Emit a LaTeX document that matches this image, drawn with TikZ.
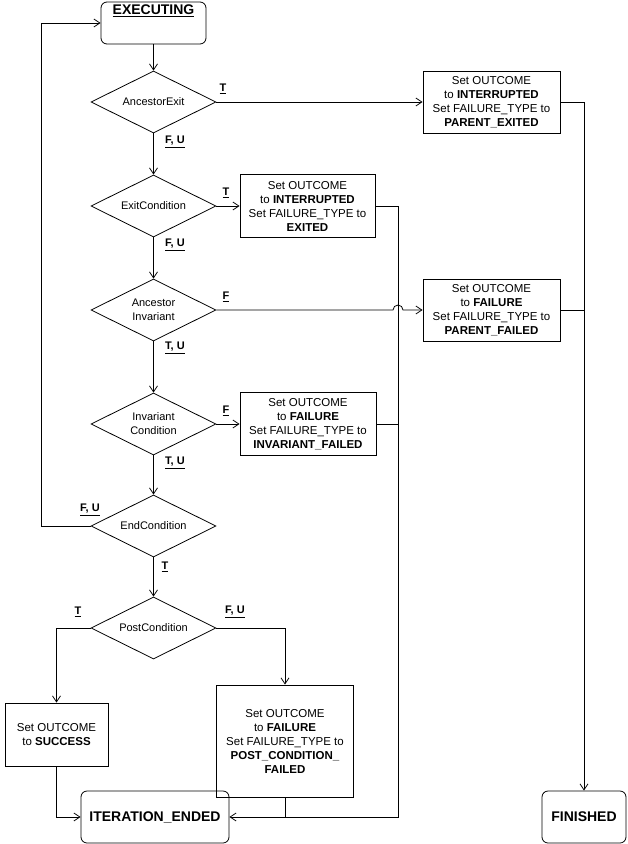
\documentclass[tikz,border=0pt]{standalone}
\usepackage{fontspec}
\setmainfont{Liberation Sans}
\usepackage{tikz}
\usetikzlibrary{shapes.geometric,arrows.meta}

\begin{document}
\begin{tikzpicture}[x=1pt,y=-1pt,>={Straight Barb[length=6pt,width=8pt]},
			line width=0.8pt,
			test/.style={diamond,draw,aspect=2,minimum width=125pt,minimum height=62pt,inner sep=0pt,align=center,font=\fontsize{11}{14}\selectfont},
			action/.style={rectangle,draw,minimum width=137pt,minimum height=62pt,inner sep=2pt,align=center,font=\fontsize{11.5}{14}\selectfont},
			state/.style={rectangle,draw,rounded corners=6pt,font=\fontsize{14}{16}\selectfont\bfseries},
			tag/.style={inner sep=0pt,font=\fontsize{11}{13}\selectfont\bfseries},
			]
			\useasboundingbox (0,0) rectangle (627,844);
			
			% 状态
			\node[state,minimum width=105pt,minimum height=42pt,
			label={[anchor=north,inner sep=3pt,font=\fontsize{14}{16}\selectfont\bfseries]north:\underline{EXECUTING}}] (exec) at (153.5,23) {};
			\node[state,minimum width=148pt,minimum height=52pt] (iter) at (155,817) {ITERATION\_ENDED};
			\node[state,minimum width=84pt,minimum height=52pt] (fin) at (584,817) {FINISHED};
			
			% 判断
			\node[test] (ae) at (153.5,102) {AncestorExit};
			\node[test] (ec) at (153.5,206) {ExitCondition};
			\node[test] (ai) at (153.5,310) {Ancestor\\Invariant};
			\node[test] (ic) at (153.5,424) {Invariant\\Condition};
			\node[test] (endc) at (153.5,526) {EndCondition};
			\node[test] (post) at (153.5,628) {PostCondition};
			
			% 动作
			\node[action] (pe) at (491.5,102) {Set OUTCOME\\to \textbf{INTERRUPTED}\\Set FAILURE\_TYPE to\\\textbf{PARENT\_EXITED}};
			\node[action,minimum width=135pt,minimum height=63pt] (ex) at (307.5,206) {Set OUTCOME\\to \textbf{INTERRUPTED}\\Set FAILURE\_TYPE to\\\textbf{EXITED}};
			\node[action] (pf) at (491.5,310) {Set OUTCOME\\to \textbf{FAILURE}\\Set FAILURE\_TYPE to\\\textbf{PARENT\_FAILED}};
			\node[action,minimum width=136pt,minimum height=63pt] (inv) at (308,424) {Set OUTCOME\\to \textbf{FAILURE}\\Set FAILURE\_TYPE to\\\textbf{INVARIANT\_FAILED}};
			\node[action,minimum width=103pt,minimum height=63pt] (succ) at (56.5,734.5) {Set OUTCOME\\to \textbf{SUCCESS}};
			\node[action,minimum height=112pt] (pcf) at (285,741) {Set OUTCOME\\to \textbf{FAILURE}\\Set FAILURE\_TYPE to\\\textbf{POST\_CONDITION\_}\\\textbf{FAILED}};
			
			% 分支标记
			\node[tag] (t1) at (223,89) {\underline{T}};
			\node[tag] (fu1) at (175,142) {\underline{F, U}};
			\node[tag] (t2) at (226,193) {\underline{T}};
			\node[tag] (fu2) at (175,245) {\underline{F, U}};
			\node[tag] (f3) at (226,297) {\underline{F}};
			\node[tag] (tu3) at (175,348) {\underline{T, U}};
			\node[tag] (f4) at (226,411) {\underline{F}};
			\node[tag] (tu4) at (175,463) {\underline{T, U}};
			\node[tag] (fu5) at (90,510) {\underline{F, U}};
			\node[tag] (t5) at (165,567) {\underline{T}};
			\node[tag] (t6) at (78,612) {\underline{T}};
			\node[tag] (fu6) at (235,612) {\underline{F, U}};
			
			% 辅助点
			\coordinate (bus) at (398,0);
			\coordinate (loop) at (41,0);
			\coordinate (hop) at (393,310);
			
			% 主干
			\draw[->] (exec.south) -- (ae.north);
			\draw[->] (ae.south) -- (ec.north);
			\draw[->] (ec.south) -- (ai.north);
			\draw[->] (ai.south) -- (ic.north);
			\draw[->] (ic.south) -- (endc.north);
			\draw[->] (endc.south) -- (post.north);
			\draw[->] (endc.west) -- (endc.west -| loop) |- (exec.west);
			
			% 向右分支
			\draw[->] (ae.east) -- (pe.west);
			\draw[->] (ec.east) -- (ex.west);
			\draw[->] (ai.east) -- (hop) arc[start angle=180,end angle=360,radius=5] -- (pf.west);
			\draw[->] (ic.east) -- (inv.west);
			
			% 汇合到终态
			\draw[->] (pe.east) -| (fin.north);
			\draw (pf.east) -- (pf.east -| fin.north);
			\draw[->] (ex.east) -- (ex.east -| bus) |- (iter.east);
			\draw (inv.east) -- (inv.east -| bus);
			
			% PostCondition
			\draw[->] (post.west) -| (succ.north);
			\draw[->] (post.east) -| (pcf.north);
			\draw[->] (succ.south) |- (iter.west);
			\draw (pcf.south) -- (pcf.south |- iter.east);
		\end{tikzpicture}
\end{document}
